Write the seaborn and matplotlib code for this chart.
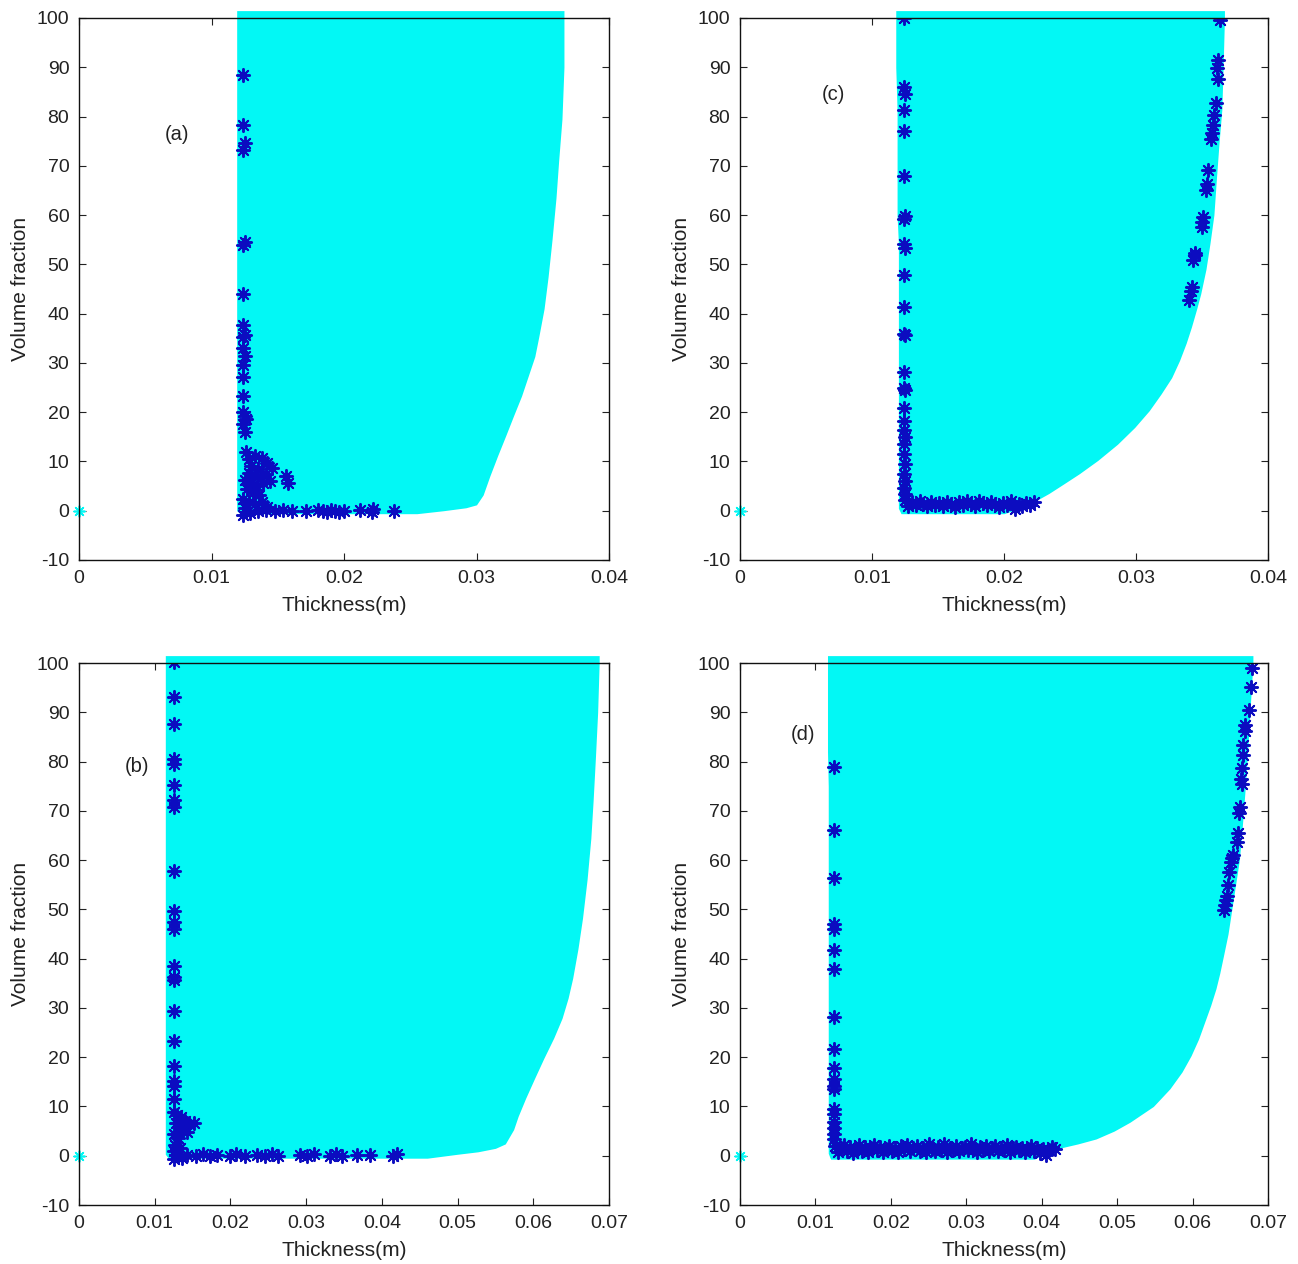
import numpy as np
import pandas as pd
import seaborn as sns
import matplotlib.pyplot as plt

sns.set_style("ticks")
plt.rcParams['font.family'] = ['Liberation Sans', 'DejaVu Sans']
plt.rcParams['axes.unicode_minus'] = False

# ---------------- feasible region outlines (y, left edge, right edge) ----------------
a_edge_y = [-0.6, 0.0, 0.6, 1.2, 3.2, 7.0, 11.2, 15.2, 19.3, 23.3, 27.3, 31.3, 35.3, 41.0,
            47.4, 55.0, 63.5, 71.0, 79.5, 90.0, 100.0, 101.5]
a_edge_left = [0.0122, 0.0119, 0.0119, 0.0119, 0.0119, 0.0119, 0.0119, 0.0119, 0.0119, 0.0119, 0.0119,
               0.0119, 0.0119, 0.0119, 0.0119, 0.0119, 0.0119, 0.0119, 0.0119, 0.0119, 0.0119, 0.0119]
a_edge_right = [0.0255, 0.0275, 0.0292, 0.0300, 0.0305, 0.0310, 0.0316, 0.0322, 0.0328, 0.0334, 0.0339,
                0.0344, 0.0347, 0.0351, 0.0354, 0.0357, 0.0360, 0.0362, 0.03645, 0.0366, 0.0366, 0.0366]

c_edge_y = [-0.6, 0.5, 1.2, 2.0, 3.5, 5.4, 7.5, 10.2, 13.5, 16.9, 20.3, 23.7, 27.0, 30.5, 34.0,
            37.3, 41.0, 44.0, 49.0, 54.2, 60.0, 67.7, 75.0, 81.3, 90.0, 100.0, 101.5]
c_edge_left = [0.0122, 0.0120, 0.0120, 0.0120, 0.0120, 0.0120, 0.0120, 0.0120, 0.0120, 0.0120, 0.0120,
               0.0120, 0.0120, 0.0120, 0.0120, 0.0120, 0.0120, 0.0120, 0.0120, 0.0120, 0.0119, 0.0119,
               0.0119, 0.0119, 0.0118, 0.0118, 0.0118]
c_edge_right = [0.0200, 0.0212, 0.0218, 0.0224, 0.0234, 0.0245, 0.0257, 0.0271, 0.0286, 0.0299, 0.0310,
                0.0319, 0.0327, 0.0333, 0.0338, 0.0342, 0.0346, 0.0349, 0.0353, 0.0356, 0.0359, 0.0361,
                0.0363, 0.0365, 0.0366, 0.0367, 0.0367]

b_edge_y = [-0.5, 0.3, 0.8, 1.5, 2.4, 5.3, 8.0, 11.7, 15.8, 19.8, 23.9, 27.9, 32.0, 36.0, 42.0,
            48.2, 56.0, 64.4, 72.0, 80.6, 90.0, 100.0, 101.5]
b_edge_left = [0.0118, 0.0114, 0.0114, 0.0114, 0.0114, 0.0114, 0.0114, 0.0114, 0.0114, 0.0114, 0.0114,
               0.0114, 0.0114, 0.0114, 0.0114, 0.0114, 0.0114, 0.0114, 0.0114, 0.0114, 0.0114, 0.0114,
               0.0114]
b_edge_right = [0.0460, 0.0500, 0.0527, 0.0550, 0.0563, 0.0574, 0.0580, 0.0590, 0.0602, 0.0614, 0.0627,
                0.0638, 0.0646, 0.0652, 0.0659, 0.0665, 0.0671, 0.0676, 0.0679, 0.0682, 0.0685, 0.0687,
                0.0687]

d_edge_y = [-0.7, 0.5, 1.4, 2.4, 3.4, 5.0, 6.8, 10.0, 13.6, 17.0, 20.3, 23.7, 27.1, 30.5, 33.9,
            37.0, 40.6, 45.0, 50.0, 55.0, 60.0, 67.0, 75.0, 82.0, 90.0, 100.0, 101.5]
d_edge_left = [0.0120, 0.0117, 0.0117, 0.0117, 0.0117, 0.0117, 0.0117, 0.0117, 0.0117, 0.0117, 0.0117,
               0.0117, 0.0117, 0.0117, 0.0117, 0.0117, 0.0117, 0.0117, 0.0117, 0.0117, 0.0117, 0.0117,
               0.0117, 0.0116, 0.0116, 0.0116, 0.0116]
d_edge_right = [0.0390, 0.0405, 0.0420, 0.0448, 0.0472, 0.0496, 0.0517, 0.0548, 0.0570, 0.0586, 0.0598,
                0.0608, 0.0616, 0.0624, 0.0631, 0.0636, 0.0641, 0.0647, 0.0652, 0.0657, 0.0662, 0.0666,
                0.0670, 0.0673, 0.0676, 0.0680, 0.0680]

# ---------------- Pareto-optimal designs ----------------
a_pareto_x = [0.0124, 0.0124, 0.0125, 0.0124, 0.0125, 0.0124, 0.0124, 0.0124, 0.0125, 0.0124,
              0.0124, 0.0125, 0.0124, 0.0124, 0.0124, 0.0124, 0.0125, 0.0126, 0.0124, 0.0125,
              0.0126, 0.0128, 0.0133, 0.0138, 0.0142, 0.0146, 0.0130, 0.0135, 0.0128, 0.0132,
              0.0137, 0.0141, 0.0125, 0.0130, 0.0134, 0.0139, 0.0144, 0.0156, 0.0158, 0.0127,
              0.0131, 0.0136, 0.0124, 0.0128, 0.0133, 0.0138, 0.0142, 0.0125, 0.0129, 0.0124,
              0.0135, 0.0141, 0.0148, 0.0154, 0.0161, 0.0171, 0.0180, 0.0184, 0.0187, 0.0190,
              0.0193, 0.0196, 0.0200, 0.0212, 0.0221, 0.0222, 0.0238]
a_pareto_y = [88.5, 78.2, 74.6, 73.2, 54.6, 54.0, 44.0, 37.6, 35.6, 35.2,
              33.0, 31.4, 29.6, 27.2, 23.2, 20.0, 19.2, 18.6, 17.6, 16.0,
              12.0, 10.5, 11.2, 10.6, 9.6, 8.6, 9.0, 8.4, 7.6, 7.0,
              6.8, 7.4, 6.2, 5.6, 5.0, 5.6, 6.0, 7.0, 5.6, 4.4,
              3.6, 3.2, 2.4, 1.8, 1.4, 1.8, 0.8, 0.6, -0.4, -0.8,
              0.0, 0.2, 0.0, 0.2, 0.0, 0.0, 0.2, 0.0, -0.2, 0.2,
              0.0, -0.2, 0.0, 0.2, -0.2, 0.4, 0.0]

c_pareto_x = [0.0124, 0.0124, 0.0125, 0.0124, 0.0124, 0.0124, 0.0125, 0.0124, 0.0124, 0.0125,
              0.0124, 0.0124, 0.0124, 0.0125, 0.0124, 0.0124, 0.0125, 0.0124, 0.0124, 0.0124,
              0.0125, 0.0124, 0.0124, 0.0125, 0.0124, 0.0125, 0.0124, 0.0125,
              0.0125, 0.0127, 0.0130, 0.0133, 0.0136, 0.0139, 0.0142, 0.0145, 0.0148, 0.0151,
              0.0154, 0.0157, 0.0160, 0.0163, 0.0166, 0.0169, 0.0172, 0.0175, 0.0178, 0.0181,
              0.0184, 0.0187, 0.0190, 0.0193, 0.0196, 0.0199, 0.0202, 0.0205, 0.0208, 0.0211,
              0.0214, 0.0217, 0.0220, 0.0223,
              0.03636, 0.03624, 0.0361, 0.0362, 0.03606, 0.03594, 0.03586, 0.03573, 0.03566, 0.03548,
              0.03536, 0.0353, 0.0351, 0.03498, 0.0350, 0.03447, 0.03434, 0.0345, 0.03422, 0.03404,
              0.0342]
c_pareto_y = [100.0, 85.9, 84.6, 81.3, 77.1, 67.9, 59.8, 59.2, 54.2, 53.4,
              47.8, 41.4, 35.9, 35.6, 28.1, 24.9, 24.5, 20.8, 18.3, 16.3,
              14.9, 13.6, 11.6, 9.5, 7.5, 6.1, 4.7, 3.4,
              2.2, 1.0, 1.8, 1.2, 2.0, 1.4, 1.0, 1.8, 1.2, 1.6,
              1.0, 1.8, 1.3, 0.8, 1.7, 1.2, 1.9, 1.4, 1.0, 2.0,
              1.5, 1.1, 1.8, 1.3, 0.8, 1.6, 1.2, 1.9, 0.4, 1.4,
              1.0, 1.6, 1.2, 1.8,
              99.6, 91.5, 89.8, 87.7, 82.7, 80.3, 78.3, 76.6, 75.5, 69.1,
              66.4, 65.0, 59.6, 57.6, 58.6, 51.8, 50.8, 52.4, 45.4, 42.7,
              44.6]

b_pareto_x = [0.0125, 0.0125, 0.0126, 0.0125, 0.0125, 0.0125, 0.0126, 0.0125, 0.0125, 0.0125,
              0.0126, 0.0125, 0.0125, 0.0125, 0.0126, 0.0125, 0.0125, 0.0125, 0.0125, 0.0126,
              0.0125,
              0.0125, 0.0130, 0.0135, 0.0140, 0.0145, 0.0152, 0.0128, 0.0133, 0.0138, 0.0143,
              0.0126, 0.0131, 0.0127, 0.0133, 0.0125, 0.0130, 0.0136, 0.0125,
              0.0142, 0.0155, 0.0164, 0.0173, 0.0182, 0.0199, 0.0208, 0.0219, 0.0235, 0.0246,
              0.0255, 0.0263, 0.0292, 0.0301, 0.0310, 0.0332, 0.0340, 0.0347, 0.0367, 0.0384,
              0.0415, 0.0420]
b_pareto_y = [100.3, 93.2, 87.7, 80.6, 79.6, 75.2, 72.2, 70.8, 57.7, 49.6,
              47.4, 46.1, 38.6, 36.2, 35.6, 29.3, 23.2, 18.3, 15.2, 14.2,
              11.5,
              8.8, 8.2, 7.8, 7.0, 6.4, 6.6, 6.6, 6.0, 5.2, 4.8,
              4.4, 3.6, 2.2, 1.6, 1.0, 0.2, -0.4, -0.6,
              0.2, 0.0, 0.3, 0.0, 0.2, 0.0, 0.3, 0.0, 0.2, 0.0,
              0.3, 0.0, 0.2, 0.0, 0.3, 0.0, 0.3, 0.0, 0.2, 0.2,
              0.0, 0.3]

d_pareto_x = [0.0124, 0.0124, 0.0125, 0.0124, 0.0124, 0.0125, 0.0124, 0.0124, 0.0124, 0.0125,
              0.0124, 0.0124, 0.0125, 0.0124, 0.0125, 0.0124, 0.0124, 0.0125, 0.0124,
              0.0126, 0.0130, 0.0134, 0.0138, 0.0142, 0.0146, 0.0150, 0.0154, 0.0158, 0.0162,
              0.0166, 0.0170, 0.0174, 0.0178, 0.0182, 0.0186, 0.0190, 0.0194, 0.0198, 0.0202,
              0.0206, 0.0210, 0.0214, 0.0218, 0.0222, 0.0226, 0.0230, 0.0234, 0.0238, 0.0242,
              0.0246, 0.0250, 0.0254, 0.0258, 0.0262, 0.0266, 0.0270, 0.0274, 0.0278, 0.0282,
              0.0286, 0.0290, 0.0294, 0.0298, 0.0302, 0.0306, 0.0310, 0.0314, 0.0318, 0.0322,
              0.0326, 0.0330, 0.0334, 0.0338, 0.0342, 0.0346, 0.0350, 0.0354, 0.0358, 0.0362,
              0.0366, 0.0370, 0.0374, 0.0378, 0.0382, 0.0386, 0.0390, 0.0394, 0.0398, 0.0402,
              0.0406, 0.0410, 0.0414, 0.0418,
              0.06784, 0.0677, 0.06752, 0.06695, 0.0669, 0.06673, 0.06664, 0.0666, 0.06651, 0.0664,
              0.06629, 0.0662, 0.06598, 0.06585, 0.0654, 0.06505, 0.0652, 0.06487, 0.06474, 0.06452,
              0.0644, 0.0643, 0.06421]
d_pareto_y = [78.9, 66.1, 56.4, 47.1, 46.1, 41.7, 37.9, 28.1, 21.7, 17.9,
              15.6, 14.2, 13.6, 9.5, 8.5, 6.8, 5.6, 4.4, 3.4,
              2.0, 0.8, 1.6, 2.2, 1.0, 1.8, 0.6, 1.4, 2.1, 1.0,
              1.7, 0.8, 1.5, 2.2, 1.1, 1.8, 0.7, 1.4, 2.0, 1.0,
              1.6, 0.8, 1.9, 1.3, 2.2, 0.9, 1.5, 1.9, 1.0, 1.6,
              0.7, 2.3, 1.4, 1.0, 1.8, 1.2, 2.4, 0.8, 1.6, 1.2,
              2.0, 0.9, 1.5, 1.8, 1.1, 2.3, 1.4, 0.8, 1.7, 1.2,
              2.0, 1.0, 1.5, 1.9, 0.9, 1.6, 1.2, 2.1, 0.8, 1.5,
              1.8, 1.1, 1.6, 0.7, 1.3, 2.0, 1.0, 1.6, 0.6, 1.4,
              0.2, 1.2, 1.8, 1.4,
              98.9, 95.2, 90.4, 87.4, 86.2, 83.3, 81.3, 78.6, 75.5, 76.4,
              70.8, 69.6, 65.4, 63.7, 61.0, 59.6, 60.4, 57.6, 54.9, 52.8,
              51.8, 50.8, 49.8]

panel_labels = ["(a)", "(c)", "(b)", "(d)"]
label_pos_x = [0.0074, 0.0071, 0.0076, 0.0083]
label_pos_y = [76.3, 84.5, 79.0, 85.4]
x_limits = [0.04, 0.04, 0.07, 0.07]
y_ticks = [-10, 0, 10, 20, 30, 40, 50, 60, 70, 80, 90, 100]
x_ticks_short = [0, 0.01, 0.02, 0.03, 0.04]
x_ticks_long = [0, 0.01, 0.02, 0.03, 0.04, 0.05, 0.06, 0.07]

CYAN = "#02f8f5"
DARK_BLUE = "#0c0cc0"
ASTERISK = (8, 2, 0)
TEXT = "#222222"

fig = plt.figure(figsize=(12.98, 12.64), dpi=100)
rects = [
    [79 / 1298, (1264 - 560) / 1264, 530 / 1298, 542 / 1264],
    [740 / 1298, (1264 - 560) / 1264, 528 / 1298, 542 / 1264],
    [79 / 1298, (1264 - 1205) / 1264, 530 / 1298, 542 / 1264],
    [740 / 1298, (1264 - 1205) / 1264, 528 / 1298, 542 / 1264],
]

edges = [
    (a_edge_y, a_edge_left, a_edge_right),
    (c_edge_y, c_edge_left, c_edge_right),
    (b_edge_y, b_edge_left, b_edge_right),
    (d_edge_y, d_edge_left, d_edge_right),
]
paretos = [
    (a_pareto_x, a_pareto_y),
    (c_pareto_x, c_pareto_y),
    (b_pareto_x, b_pareto_y),
    (d_pareto_x, d_pareto_y),
]

for i in range(4):
    ax = fig.add_axes(rects[i])
    ey, el, er = edges[i]
    # all evaluated designs fill this region
    ax.fill_betweenx(ey, el, er, color=CYAN, linewidth=0, zorder=1, clip_on=False)
    # the design at the origin
    ax.scatter([0.0], [0.0], marker=ASTERISK, s=60, color=CYAN, linewidths=1.2,
               zorder=2, clip_on=False)
    px, py = paretos[i]
    df = pd.DataFrame({"thickness": px, "volume": py})
    sns.scatterplot(data=df, x="thickness", y="volume", ax=ax, marker=ASTERISK,
                    s=90, color=DARK_BLUE, linewidth=1.4, zorder=3, legend=False)

    ax.set_xlim(0, x_limits[i])
    ax.set_ylim(-10, 100)
    ax.set_yticks(y_ticks)
    ax.set_xticks(x_ticks_short if x_limits[i] == 0.04 else x_ticks_long)
    ax.set_xticklabels(["0" if t == 0 else f"{t:g}" for t in ax.get_xticks()])
    ax.tick_params(direction="in", top=True, right=True, length=5, width=0.8,
                   labelsize=14, colors=TEXT, pad=7)
    for sp in ax.spines.values():
        sp.set_visible(True)
        sp.set_linewidth(1.0)
        sp.set_color("#111111")
        sp.set_zorder(4)
    ax.set_xlabel("Thickness(m)", fontsize=15, color=TEXT, labelpad=7)
    ax.set_ylabel("Volume fraction", fontsize=15, color=TEXT, labelpad=5)
    ax.text(label_pos_x[i], label_pos_y[i], panel_labels[i], fontsize=14.5,
            color=TEXT, ha="center", va="center")

fig.savefig("out.png", dpi=100, facecolor="white")
